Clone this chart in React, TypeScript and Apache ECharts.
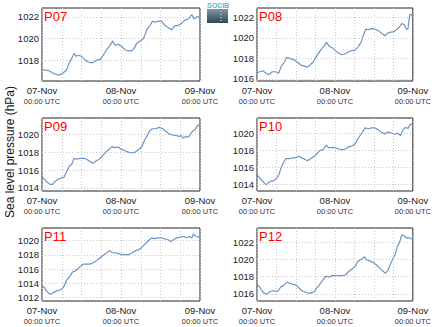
import React, { useEffect, useRef } from "react";
import * as echarts from "echarts";

// ---- data (hours since 07-Nov 00:00 UTC, sea level pressure hPa) ----
const stationNames = ["P07", "P08", "P09", "P10", "P11", "P12"];
const xTickHours = [0, 24, 48];
const xTickDays = ["07-Nov", "08-Nov", "09-Nov"];
const xTickTime = "00:00 UTC";

const p07Hours = [0,2,3.4,5,5.5,6.5,7.5,8,9,9.8,10.4,11,12,13,13.8,15,16,16.6,17.6,18.6,19.6,20.7,21.5,22.2,23.2,24.2,25.2,26.2,27.2,28,28.8,29.8,30.8,31.8,32.8,33.6,34.3,35.3,36.3,37.4,38.4,39.4,40.4,41.4,42.4,43.4,44.5,45.5,46.2,47,48];
const p07Values = [1017.2,1017.1,1016.85,1016.7,1016.7,1016.9,1017.15,1017.6,1018.2,1018.67,1018.4,1018.5,1018.4,1018.1,1017.9,1017.8,1017.9,1018.05,1018.1,1018.5,1019.0,1019.4,1019.8,1019.4,1019.5,1019.3,1019.0,1018.9,1018.9,1019.1,1019.6,1019.8,1020.0,1020.8,1021.2,1021.6,1021.5,1021.6,1021.6,1021.2,1021.0,1020.8,1021.2,1021.2,1021.4,1021.7,1021.8,1022.2,1021.8,1022.0,1022.0];

const p08Hours = [0,0.8,1.8,2.8,3.7,4.7,5.7,6.7,7.4,8.4,9.2,10.1,11.5,12.5,13.5,14.5,15.5,16.3,17.4,18.6,19.6,20.6,21.4,22.3,23.1,24.2,25.2,26.2,27.2,28.2,29.2,30.2,31.1,32.1,32.8,33.5,34.3,35.3,36.3,37.3,38.4,39.4,40.2,41.2,42.2,43.4,44.7,45.4,46,46.5,47,47.3,48];
const p08Values = [1016.6,1016.7,1016.8,1016.55,1016.4,1016.7,1016.7,1016.55,1017.2,1017.6,1018.1,1018.0,1017.85,1017.6,1017.35,1017.25,1017.15,1017.35,1017.7,1018.35,1018.8,1019.2,1019.55,1019.15,1019.05,1018.75,1018.5,1018.35,1018.45,1018.65,1018.75,1018.8,1019.1,1019.6,1020.3,1020.85,1020.8,1020.9,1020.85,1020.7,1020.45,1020.2,1020.45,1020.55,1020.6,1020.9,1021.4,1021.25,1020.8,1020.9,1022.2,1022.3,1022.05];

const p09Hours = [0,0.6,1.4,2.4,3.2,3.9,5.0,6.0,6.7,7.5,8.3,9.0,9.7,10.5,11.5,12.6,13.6,14.6,15.4,16.4,17.4,18.4,19.4,20.3,21.2,22.2,23.2,24.2,25.2,26.2,27.2,28.3,29.3,30.3,31.0,31.8,32.8,33.6,34.6,35.6,36.7,37.7,38.7,39.7,40.7,41.7,42.4,42.9,43.7,44.5,45.2,46.0,46.5,47.2,48];
const p09Values = [1015.2,1015.05,1014.7,1014.4,1014.4,1014.7,1015.0,1015.15,1015.2,1015.8,1016.45,1016.6,1017.3,1017.2,1017.3,1017.3,1017.2,1016.95,1016.75,1017.0,1017.2,1017.6,1018.0,1018.25,1018.6,1018.5,1018.55,1018.3,1018.15,1018.0,1017.9,1018.0,1018.25,1018.6,1019.2,1019.75,1020.4,1020.6,1020.6,1020.75,1020.6,1020.3,1020.0,1019.9,1019.85,1019.75,1019.85,1019.55,1019.75,1019.65,1020.1,1020.4,1020.5,1020.95,1021.1];

const p10Hours = [0,0.8,1.6,2.3,2.8,3.6,4.4,5.1,5.9,6.7,7.4,8.1,8.9,9.9,10.9,12.0,12.8,13.8,14.8,15.5,16.5,17.6,18.6,19.4,20.3,21.3,22.1,23.1,24.2,25.2,26.2,27.2,28.2,29.2,30.2,31.2,32.3,33.3,34.3,35.3,36.3,37.3,38.3,39.3,40.4,41.4,42.4,43.4,44.2,45.0,45.7,46.5,47.3,48];
const p10Values = [1015.07,1014.75,1014.35,1014.1,1013.9,1014.2,1014.35,1014.4,1014.6,1015.07,1015.9,1016.5,1017.0,1017.0,1017.1,1017.1,1017.3,1017.1,1016.9,1016.75,1017.0,1017.3,1017.65,1018.0,1018.05,1018.6,1018.3,1018.35,1018.3,1018.15,1018.05,1018.15,1018.4,1018.5,1018.75,1019.45,1020.05,1020.65,1020.55,1020.65,1020.65,1020.45,1020.15,1019.95,1020.15,1020.05,1019.9,1020.0,1019.75,1020.45,1020.7,1020.6,1021.1,1021.05];

const p11Hours = [0,0.7,1.4,2.2,2.9,3.6,4.5,5.3,6.1,6.8,7.5,8.5,9.3,10.0,11.0,11.7,12.6,13.6,14.6,15.4,16.6,17.6,18.6,19.6,20.5,21.4,22.4,23.4,24.4,25.4,26.4,27.4,28.5,29.5,30.3,31.3,32.3,33.3,34.3,35.3,36.3,37.4,38.4,39.1,39.9,40.9,41.9,42.9,44.0,44.8,45.5,46.0,46.5,47.2,48];
const p11Values = [1013.66,1013.4,1012.85,1012.5,1012.5,1012.7,1012.95,1013.0,1013.2,1013.65,1014.45,1015.0,1015.6,1015.7,1016.05,1016.4,1016.7,1016.7,1016.7,1016.85,1017.2,1017.55,1017.95,1018.25,1018.6,1018.3,1018.3,1018.15,1018.05,1018.05,1018.05,1018.3,1018.6,1018.75,1019.05,1019.55,1020.0,1020.4,1020.3,1020.4,1020.4,1020.25,1020.1,1019.9,1020.15,1020.4,1020.5,1020.6,1020.45,1020.6,1020.4,1020.95,1020.7,1020.6,1020.4];

const p12Hours = [0,0.8,1.6,2.3,3.0,3.9,4.7,5.4,6.1,6.7,7.4,8.1,8.9,9.4,10.1,11.2,12.0,13.0,14.0,15.0,16.0,17.0,17.6,18.3,19.3,20.3,21.3,22.1,23.1,24.2,25.2,26.2,27.2,28.2,29.2,30.2,31.0,32.0,33.1,33.8,34.8,35.8,36.8,37.9,38.9,39.6,40.4,41.2,41.9,42.6,43.2,43.9,44.6,45.3,46.0,46.7,47.5,48];
const p12Values = [1017.05,1016.85,1016.35,1016.08,1015.96,1016.27,1016.35,1016.35,1016.27,1016.46,1016.85,1016.97,1017.24,1017.35,1017.24,1017.12,1017.05,1016.66,1016.35,1016.2,1016.08,1016.15,1016.27,1016.66,1017.12,1017.62,1018.08,1017.93,1018.12,1018.12,1018.12,1018.12,1018.2,1018.6,1018.86,1019.15,1019.74,1020.0,1020.3,1019.93,1019.8,1019.65,1019.35,1018.96,1018.6,1018.4,1018.8,1019.55,1020.1,1020.6,1021.5,1021.96,1022.85,1022.73,1022.46,1022.54,1022.38,1022.38];

const yTicks = [
  [1018, 1020, 1022],
  [1016, 1018, 1020, 1022],
  [1014, 1016, 1018, 1020],
  [1014, 1016, 1018, 1020],
  [1012, 1014, 1016, 1018, 1020],
  [1016, 1018, 1020, 1022],
];
const yMins = [1016.15, 1015.8, 1013.66, 1013.17, 1011.48, 1015.19];
const yMaxs = [1022.8, 1022.9, 1021.8, 1021.83, 1021.8, 1023.63];

const allHours = [p07Hours, p08Hours, p09Hours, p10Hours, p11Hours, p12Hours];
const allValues = [p07Values, p08Values, p09Values, p10Values, p11Values, p12Values];

const FONT = "'Liberation Sans', Arial, Helvetica, sans-serif";
const LINE_COLOR = "#6b96c3";

function buildOption() {
  const lefts = [42, 257];
  const tops = [8, 118, 228];
  const W = 158;
  const H = 73;
  const grids: any[] = [];
  const xAxes: any[] = [];
  const yAxes: any[] = [];
  const series: any[] = [];
  const graphics: any[] = [];
  for (let i = 0; i < 6; i++) {
    const col = i % 2;
    const row = Math.floor(i / 2);
    const left = lefts[col];
    const top = tops[row];
    grids.push({
      left,
      top,
      width: W,
      height: H,
      show: true,
      borderColor: "#222",
      borderWidth: 1,
      backgroundColor: "transparent",
    });
    xAxes.push({
      type: "value",
      gridIndex: i,
      min: 0,
      max: 48,
      interval: 6,
      axisLine: { show: false },
      axisTick: { show: false },
      splitLine: { show: true, lineStyle: { color: "#c8c8c8", type: [1, 2], width: 1 } },
      axisLabel: {
        customValues: xTickHours,
        margin: 4,
        color: "#222",
        fontFamily: FONT,
        formatter: (v: number) => {
          const k = xTickHours.indexOf(v);
          if (k < 0) return "";
          return "{a|" + xTickDays[k] + "}\n{b|" + xTickTime + "}";
        },
        rich: {
          a: { fontSize: 9.5, color: "#222", fontFamily: FONT, lineHeight: 11 },
          b: { fontSize: 7.5, color: "#333", fontFamily: FONT, lineHeight: 10 },
        },
      },
    });
    yAxes.push({
      type: "value",
      gridIndex: i,
      min: yMins[i],
      max: yMaxs[i],
      axisLine: { show: false },
      axisTick: { show: false, customValues: yTicks[i] },
      splitLine: { show: true, lineStyle: { color: "#c8c8c8", type: [1, 2], width: 1 } },
      axisLabel: {
        customValues: yTicks[i],
        margin: 3,
        fontSize: 9.5,
        color: "#222",
        fontFamily: FONT,
        formatter: (v: number) => String(Math.round(v)),
      },
    });
    const hours = allHours[i];
    const vals = allValues[i];
    const n = Math.min(hours.length, vals.length);
    const data: number[][] = [];
    for (let k = 0; k < n; k++) data.push([hours[k], vals[k]]);
    series.push({
      type: "line",
      xAxisIndex: i,
      yAxisIndex: i,
      data,
      showSymbol: false,
      symbol: "none",
      smooth: false,
      lineStyle: { color: LINE_COLOR, width: 1.2 },
      z: 3,
    });
    graphics.push({
      type: "text",
      left: left + 2,
      top: top + 2,
      style: { text: stationNames[i], fill: "#ff0000", fontSize: 13, fontFamily: FONT },
      z: 10,
    });
  }
  // y-axis title
  graphics.push({
    type: "text",
    x: 10,
    y: 152,
    rotation: Math.PI / 2,
    style: {
      text: "Sea level pressure (hPa)",
      fill: "#111",
      fontSize: 12,
      fontFamily: FONT,
      align: "center",
      verticalAlign: "middle",
    },
  });
  // logo
  graphics.push({
    type: "group",
    left: 207,
    top: 2,
    children: [
      {
        type: "text",
        x: 0,
        y: 0,
        style: { text: "SOCIB", fill: "#45c0d0", fontSize: 7, fontFamily: FONT, fontWeight: "bold" },
      },
      {
        type: "rect",
        shape: { x: 0, y: 7, width: 21, height: 14 },
        style: {
          fill: new echarts.graphic.LinearGradient(0, 0, 0, 1, [
            { offset: 0, color: "#7e98a3" },
            { offset: 1, color: "#2f4656" },
          ]),
        },
      },
      {
        type: "line",
        shape: { x1: 14, y1: 9, x2: 14, y2: 20 },
        style: { stroke: "#e8f0f2", lineWidth: 1, lineDash: [1, 2] },
      },
    ],
  });

  return {
    animation: false,
    backgroundColor: "#ffffff",
    grid: grids,
    xAxis: xAxes,
    yAxis: yAxes,
    series,
    graphic: graphics,
  };
}

export default function App() {
  const ref = useRef<HTMLDivElement>(null);
  useEffect(() => {
    if (!ref.current) return;
    const chart = echarts.init(ref.current, null, { renderer: "svg" });
    chart.setOption(buildOption() as any);
    return () => chart.dispose();
  }, []);
  return (
    <div
      ref={ref}
      style={{ position: "fixed", left: 0, top: 0, width: 434, height: 327, background: "#fff" }}
    />
  );
}
